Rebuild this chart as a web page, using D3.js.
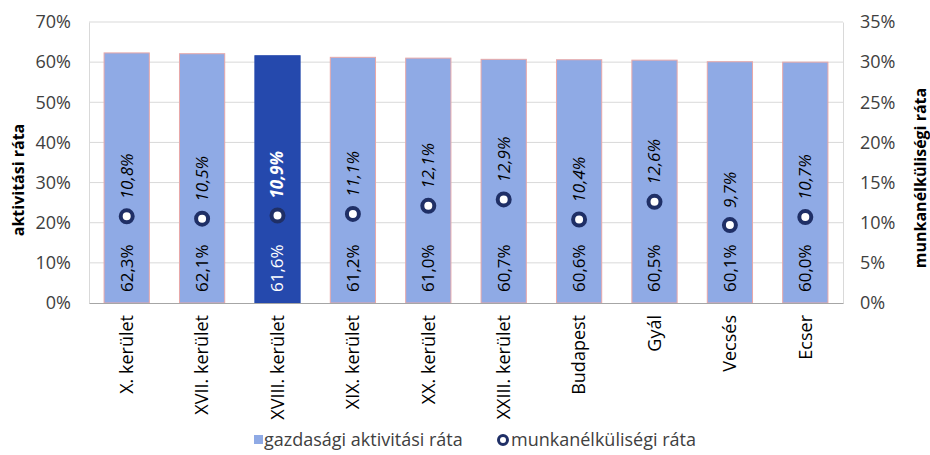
<!DOCTYPE html>
<html>
<head>
<meta charset="utf-8">
<script src="https://cdn.jsdelivr.net/npm/d3@7"></script>
<style>
  body { margin: 0; background: #fff; }
  text { font-family: "Open Sans", sans-serif; }
</style>
</head>
<body>
<script>
// adatok
const categories = ["X. kerület", "XVII. kerület", "XVIII. kerület", "XIX. kerület", "XX. kerület",
    "XXIII. kerület", "Budapest", "Gyál", "Vecsés", "Ecser"];
const activity = [62.3, 62.1, 61.6, 61.2, 61.0, 60.7, 60.6, 60.5, 60.1, 60.0];
const unemployment = [10.8, 10.5, 10.9, 11.1, 12.1, 12.9, 10.4, 12.6, 9.7, 10.7];
const highlight = "XVIII. kerület";
const leftTicks = [0, 10, 20, 30, 40, 50, 60, 70];
const rightTicks = [0, 5, 10, 15, 20, 25, 30, 35];

const W = 930, H = 455;
const margin = {top: 22, right: 87, bottom: 152, left: 89};
const width = W - margin.left - margin.right,
    height = H - margin.top - margin.bottom;

const fmt = v => v.toFixed(1).replace(".", ",") + "%";

const svg = d3.select("body").append("svg")
    .attr("width", W)
    .attr("height", H);

const g = svg.append("g")
    .attr("transform", "translate(" + margin.left + "," + margin.top + ")");

const x = d3.scaleBand()
    .domain(categories)
    .range([0, width])
    .paddingInner(0.4)
    .paddingOuter(0.2);

const y = d3.scaleLinear().domain([0, 70]).range([height, 0]);
const y2 = d3.scaleLinear().domain([0, 35]).range([height, 0]);

// rácsvonalak
g.append("g")
    .selectAll("line")
    .data(leftTicks.slice(1))
    .join("line")
    .attr("x1", 0).attr("x2", width)
    .attr("y1", d => y(d)).attr("y2", d => y(d))
    .attr("stroke", "#d9d9d9");

// bal tengely
const yAxis = g.append("g")
    .call(d3.axisLeft(y).tickValues(leftTicks).tickFormat(d => d + "%").tickSize(0).tickPadding(18));
yAxis.select(".domain").attr("stroke", "#d9d9d9");
yAxis.selectAll("text").attr("font-size", 18).attr("fill", "#404040");

// jobb tengely
const y2Axis = g.append("g")
    .attr("transform", "translate(" + width + ",0)")
    .call(d3.axisRight(y2).tickValues(rightTicks).tickFormat(d => d + "%").tickSize(0).tickPadding(17));
y2Axis.select(".domain").attr("stroke", "#d9d9d9");
y2Axis.selectAll("text").attr("font-size", 18).attr("fill", "#404040");

// oszlopok
g.append("g")
    .selectAll("rect")
    .data(categories)
    .join("rect")
    .attr("x", d => x(d))
    .attr("y", (d, i) => y(activity[i]))
    .attr("width", x.bandwidth())
    .attr("height", (d, i) => height - y(activity[i]))
    .attr("fill", d => d === highlight ? "#2549ad" : "#8faae5")
    .attr("stroke", d => d === highlight ? "#2549ad" : "#e8a8a8")
    .attr("stroke-width", 1);

// x tengely
const xAxis = g.append("g")
    .attr("transform", "translate(0," + height + ")")
    .call(d3.axisBottom(x).tickSize(0).tickPadding(0));
xAxis.select(".domain").attr("stroke", "#a6a6a6");
xAxis.selectAll("text")
    .attr("font-size", 18)
    .attr("fill", "#000")
    .attr("text-anchor", "end")
    .attr("dy", "0.35em")
    .attr("transform", "translate(0,12) rotate(-90)");

// oszlop feliratok
g.append("g")
    .selectAll("text")
    .data(categories)
    .join("text")
    .attr("transform", d => "translate(" + (x(d) + x.bandwidth() / 2) + "," + (height - 11) + ") rotate(-90)")
    .attr("dy", "0.35em")
    .attr("font-size", 17)
    .attr("fill", d => d === highlight ? "#fff" : "#000")
    .text((d, i) => fmt(activity[i]));

// munkanélküliségi pontok
g.append("g")
    .selectAll("circle")
    .data(categories)
    .join("circle")
    .attr("cx", d => x(d) + x.bandwidth() / 2)
    .attr("cy", (d, i) => y2(unemployment[i]))
    .attr("r", 6)
    .attr("fill", "#fff")
    .attr("stroke", "#1f2f66")
    .attr("stroke-width", 4);

g.append("g")
    .selectAll("text")
    .data(categories)
    .join("text")
    .attr("transform", (d, i) => "translate(" + (x(d) + x.bandwidth() / 2) + "," + (y2(unemployment[i]) - 17) + ") rotate(-90)")
    .attr("dy", "0.35em")
    .attr("font-size", 17)
    .attr("font-style", "italic")
    .attr("font-weight", d => d === highlight ? "bold" : "normal")
    .attr("fill", d => d === highlight ? "#fff" : "#000")
    .text((d, i) => fmt(unemployment[i]));

// tengelycímek
svg.append("text")
    .attr("transform", "translate(18," + (margin.top + 158) + ") rotate(-90)")
    .attr("text-anchor", "middle")
    .attr("dy", "0.35em")
    .attr("font-size", 16)
    .attr("font-weight", "bold")
    .text("aktivitási ráta");

svg.append("text")
    .attr("transform", "translate(920," + (margin.top + 156) + ") rotate(-90)")
    .attr("text-anchor", "middle")
    .attr("dy", "0.35em")
    .attr("font-size", 16)
    .attr("font-weight", "bold")
    .text("munkanélküliségi ráta");

// jelmagyarázat
const legend = svg.append("g").attr("transform", "translate(0,440)");
legend.append("rect")
    .attr("x", 254).attr("y", -5)
    .attr("width", 9).attr("height", 9)
    .attr("fill", "#8faae5");
legend.append("text")
    .attr("x", 264).attr("dy", "0.35em")
    .attr("font-size", 18).attr("fill", "#404040")
    .text("gazdasági aktivitási ráta");
legend.append("circle")
    .attr("cx", 503).attr("cy", 0).attr("r", 4.5)
    .attr("fill", "#fff").attr("stroke", "#1f2f66").attr("stroke-width", 3);
legend.append("text")
    .attr("x", 511).attr("dy", "0.35em")
    .attr("font-size", 18).attr("fill", "#404040")
    .text("munkanélküliségi ráta");
</script>
</body>
</html>
